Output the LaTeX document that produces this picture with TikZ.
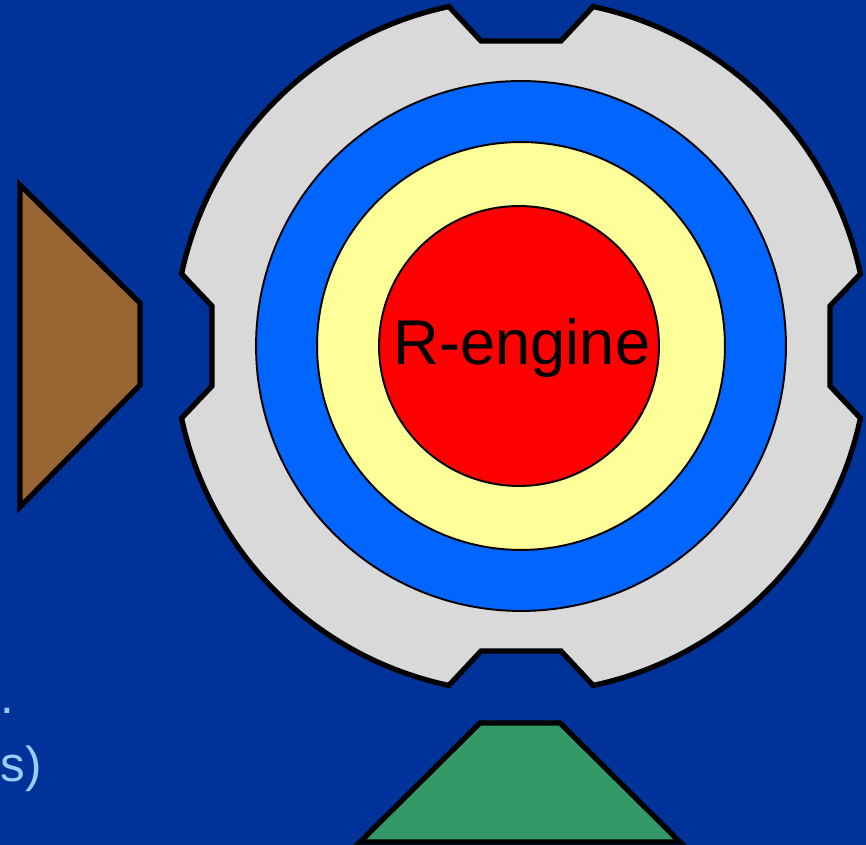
\documentclass[tikz,border=0pt]{standalone}
\usepackage{fontspec}
\setmainfont{Liberation Sans}
\usetikzlibrary{positioning}

\definecolor{slidebg}{HTML}{003399}
\definecolor{geargray}{HTML}{D9D9D9}
\definecolor{ringblue}{HTML}{0066FF}
\definecolor{ringyellow}{HTML}{FFFF99}
\definecolor{corered}{HTML}{FF0000}
\definecolor{portbrown}{HTML}{996633}
\definecolor{portgreen}{HTML}{339966}
\definecolor{capblue}{HTML}{99CCFF}

\begin{document}
\begin{tikzpicture}[x=0.02cm, y=0.02cm,
    ring/.style={circle, draw=black, line width=1.1pt, inner sep=0pt},
    block/.style={draw=black, line width=3pt, line join=miter},
    caption/.style={text=capblue, font=\fontsize{28}{34}\selectfont, anchor=base east, inner sep=0pt}
]
    % Background
    \fill[slidebg] (0,0) rectangle (866,845);
    \useasboundingbox (0,0) rectangle (866,845);

    \coordinate (hub) at (521,499);

    % Gear housing
    \begin{scope}[shift={(hub)}]
        \draw[block, fill=geargray]
            (12:347) arc[start angle=12, end angle=78, radius=347]
            -- (40,305) -- (-40,305)
            -- (102:347) arc[start angle=102, end angle=168, radius=347]
            -- (-309,40) -- (-309,-40)
            -- (192:347) arc[start angle=192, end angle=258, radius=347]
            -- (-40,-305) -- (40,-305)
            -- (282:347) arc[start angle=282, end angle=348, radius=347]
            -- (309,-40) -- (309,40) -- cycle;
    \end{scope}

    % Rings
    \node[ring, fill=ringblue, minimum size=10.6cm] (shell) at (hub) {};
    \node[ring, fill=ringyellow, minimum size=8.16cm] (layer) at (hub) {};
    \node[ring, fill=corered, minimum size=5.6cm] (engine) at (519,499) {};
    \node[anchor=base, inner sep=0pt, font=\fontsize{36}{42}\selectfont] (enginelabel) at (522,480) {R-engine};

    % Ports
    \draw[block, fill=portbrown] (20,660) -- (140,542) -- (140,460) -- (20,338) -- cycle;
    \draw[block, fill=portgreen] (360,3) -- (480,122) -- (560,122) -- (680,3) -- cycle;

    % Cut-off caption text
    \node[caption] (capdot) at (15,131) {.};
    \node[caption] (capend) at (42,63) {s)};
\end{tikzpicture}
\end{document}
